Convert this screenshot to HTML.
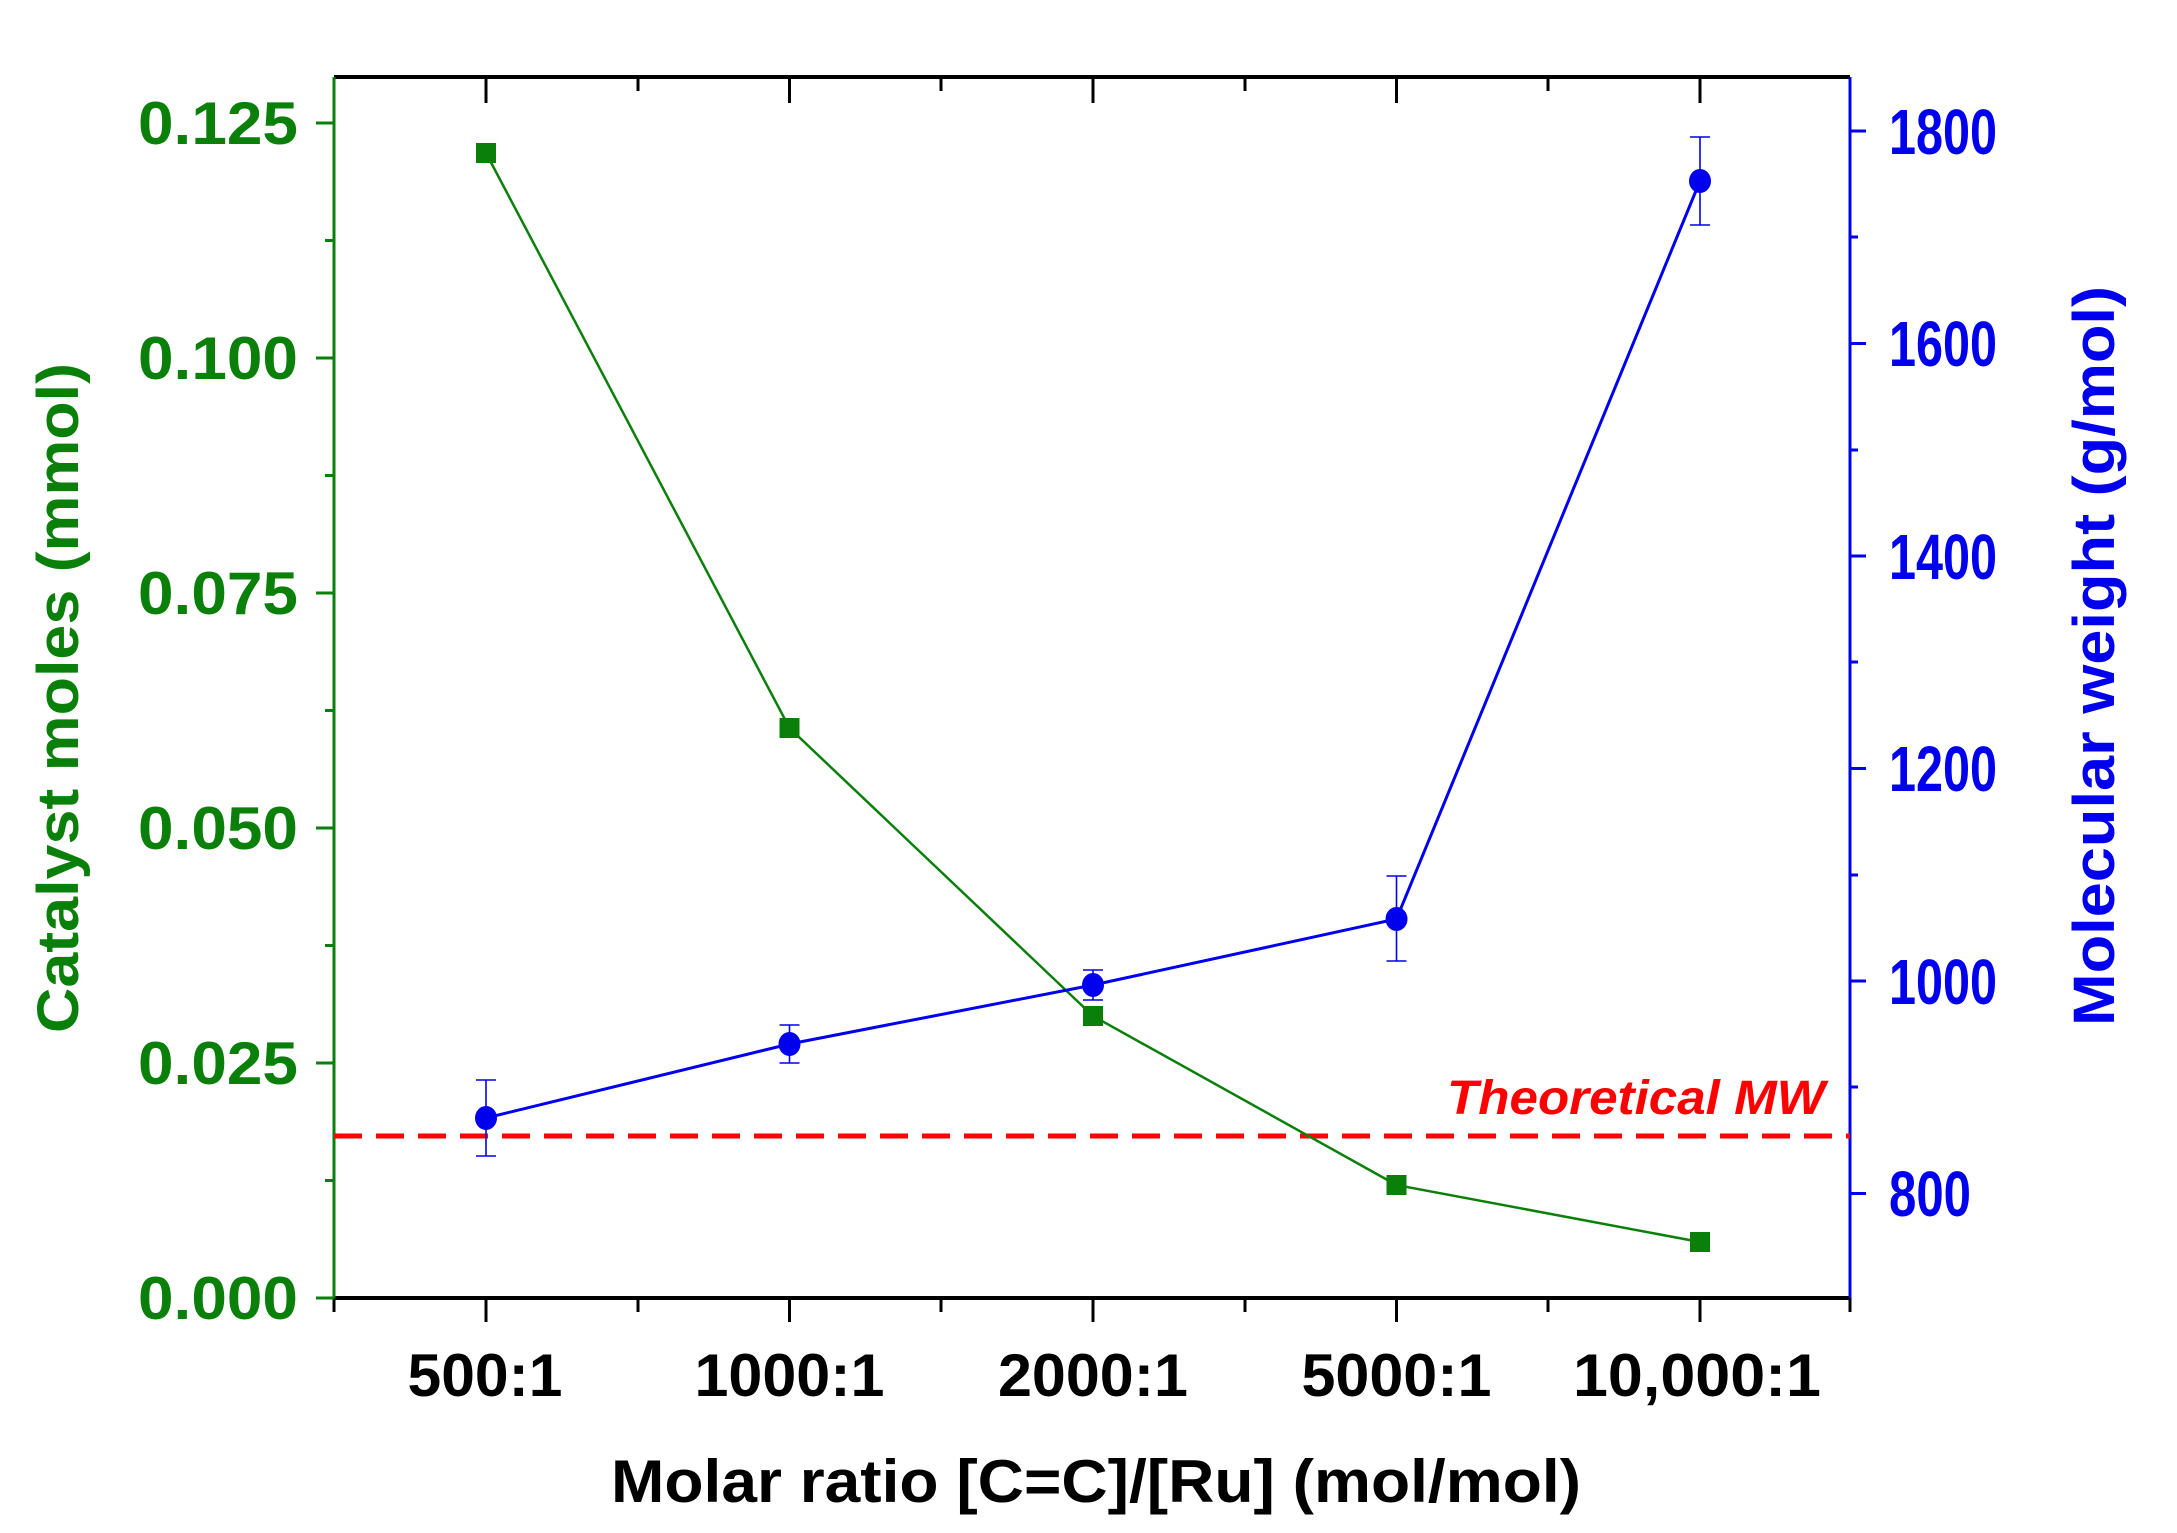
<!DOCTYPE html>
<html><head><meta charset="utf-8"><style>
html,body{margin:0;padding:0;background:#fff}
svg{display:block}
text{font-family:"Liberation Sans",Arial,sans-serif;font-weight:bold}
</style></head><body>
<svg width="2177" height="1533" viewBox="0 0 2177 1533" xmlns="http://www.w3.org/2000/svg">
<line x1="334" y1="77" x2="1850" y2="77" stroke="#000" stroke-width="4"/>
<line x1="334" y1="1298" x2="1850" y2="1298" stroke="#000" stroke-width="4"/>
<line x1="334" y1="77" x2="334" y2="1300" stroke="#0a800a" stroke-width="3"/>
<line x1="1850" y1="77" x2="1850" y2="1300" stroke="#0000ee" stroke-width="3"/>
<g stroke="#000" stroke-width="3">
<line x1="486" y1="1298" x2="486" y2="1322"/><line x1="789.5" y1="1298" x2="789.5" y2="1322"/><line x1="1093" y1="1298" x2="1093" y2="1322"/><line x1="1396.5" y1="1298" x2="1396.5" y2="1322"/><line x1="1700" y1="1298" x2="1700" y2="1322"/>
<line x1="334" y1="1298" x2="334" y2="1312"/><line x1="638" y1="1298" x2="638" y2="1312"/><line x1="941" y1="1298" x2="941" y2="1312"/><line x1="1245" y1="1298" x2="1245" y2="1312"/><line x1="1548" y1="1298" x2="1548" y2="1312"/><line x1="1850" y1="1298" x2="1850" y2="1312"/>
<line x1="486" y1="77" x2="486" y2="103"/><line x1="789.5" y1="77" x2="789.5" y2="103"/><line x1="1093" y1="77" x2="1093" y2="103"/><line x1="1396.5" y1="77" x2="1396.5" y2="103"/><line x1="1700" y1="77" x2="1700" y2="103"/>
<line x1="638" y1="77" x2="638" y2="91"/><line x1="941" y1="77" x2="941" y2="91"/><line x1="1245" y1="77" x2="1245" y2="91"/><line x1="1548" y1="77" x2="1548" y2="91"/>
</g>
<g stroke="#0a800a" stroke-width="3">
<line x1="316" y1="1298" x2="334" y2="1298"/><line x1="316" y1="1063" x2="334" y2="1063"/><line x1="316" y1="828" x2="334" y2="828"/><line x1="316" y1="593" x2="334" y2="593"/><line x1="316" y1="358" x2="334" y2="358"/><line x1="316" y1="123" x2="334" y2="123"/>
<line x1="325" y1="1180.5" x2="334" y2="1180.5"/><line x1="325" y1="945.5" x2="334" y2="945.5"/><line x1="325" y1="710.5" x2="334" y2="710.5"/><line x1="325" y1="475.5" x2="334" y2="475.5"/><line x1="325" y1="240.5" x2="334" y2="240.5"/>
</g>
<g fill="#0a800a" font-size="60" text-anchor="end">
<text x="298" y="144" textLength="160" lengthAdjust="spacingAndGlyphs">0.125</text>
<text x="298" y="379" textLength="160" lengthAdjust="spacingAndGlyphs">0.100</text>
<text x="298" y="614" textLength="160" lengthAdjust="spacingAndGlyphs">0.075</text>
<text x="298" y="849" textLength="160" lengthAdjust="spacingAndGlyphs">0.050</text>
<text x="298" y="1084" textLength="160" lengthAdjust="spacingAndGlyphs">0.025</text>
<text x="298" y="1319" textLength="160" lengthAdjust="spacingAndGlyphs">0.000</text>
</g>
<g stroke="#0000ee" stroke-width="3">
<line x1="1850" y1="131" x2="1866" y2="131"/><line x1="1850" y1="343.5" x2="1866" y2="343.5"/><line x1="1850" y1="556" x2="1866" y2="556"/><line x1="1850" y1="768.5" x2="1866" y2="768.5"/><line x1="1850" y1="981" x2="1866" y2="981"/><line x1="1850" y1="1193.5" x2="1866" y2="1193.5"/>
<line x1="1850" y1="237" x2="1858" y2="237"/><line x1="1850" y1="450" x2="1858" y2="450"/><line x1="1850" y1="662" x2="1858" y2="662"/><line x1="1850" y1="875" x2="1858" y2="875"/><line x1="1850" y1="1087" x2="1858" y2="1087"/>
</g>
<g fill="#0000ee" font-size="64" text-anchor="start">
<text x="1889" y="154" textLength="108" lengthAdjust="spacingAndGlyphs">1800</text>
<text x="1889" y="366" textLength="108" lengthAdjust="spacingAndGlyphs">1600</text>
<text x="1889" y="579" textLength="108" lengthAdjust="spacingAndGlyphs">1400</text>
<text x="1889" y="791" textLength="108" lengthAdjust="spacingAndGlyphs">1200</text>
<text x="1889" y="1004" textLength="108" lengthAdjust="spacingAndGlyphs">1000</text>
<text x="1889" y="1216" textLength="82" lengthAdjust="spacingAndGlyphs">800</text>
</g>
<g fill="#000" font-size="60" text-anchor="middle">
<text x="485" y="1396" textLength="155" lengthAdjust="spacingAndGlyphs">500:1</text>
<text x="789.5" y="1396" textLength="190" lengthAdjust="spacingAndGlyphs">1000:1</text>
<text x="1093" y="1396" textLength="190" lengthAdjust="spacingAndGlyphs">2000:1</text>
<text x="1396.5" y="1396" textLength="190" lengthAdjust="spacingAndGlyphs">5000:1</text>
<text x="1697" y="1396" textLength="248" lengthAdjust="spacingAndGlyphs">10,000:1</text>
<text x="1096" y="1502" textLength="970" lengthAdjust="spacingAndGlyphs">Molar ratio [C=C]/[Ru] (mol/mol)</text>
</g>
<text transform="translate(78,698) rotate(-90)" fill="#0a800a" font-size="58" text-anchor="middle" textLength="670" lengthAdjust="spacingAndGlyphs">Catalyst moles (mmol)</text>
<text transform="translate(2114,656) rotate(-90)" fill="#0000ee" font-size="58" text-anchor="middle" textLength="740" lengthAdjust="spacingAndGlyphs">Molecular weight (g/mol)</text>
<line x1="334" y1="1136" x2="1850" y2="1136" stroke="#ff0000" stroke-width="5" stroke-dasharray="28,14"/>
<text x="1825" y="1114" fill="#ff0000" font-size="48" font-style="italic" text-anchor="end" textLength="378" lengthAdjust="spacingAndGlyphs">Theoretical MW</text>
<polyline points="486,153 789.5,728 1093,1016 1396.5,1185 1700,1242" fill="none" stroke="#0a800a" stroke-width="2.5"/>
<g fill="#0a800a">
<rect x="476" y="143" width="20" height="20"/><rect x="779.5" y="718" width="20" height="20"/><rect x="1083" y="1006" width="20" height="20"/><rect x="1386.5" y="1175" width="20" height="20"/><rect x="1690" y="1232" width="20" height="20"/>
</g>
<polyline points="486,1118 789.5,1044 1093,985 1396.5,919 1700,181" fill="none" stroke="#0000ee" stroke-width="3"/>
<g stroke="#0000ee" stroke-width="1.6">
<line x1="486" y1="1080" x2="486" y2="1156"/><line x1="476" y1="1080" x2="496" y2="1080"/><line x1="476" y1="1156" x2="496" y2="1156"/>
<line x1="789.5" y1="1025" x2="789.5" y2="1063"/><line x1="779.5" y1="1025" x2="799.5" y2="1025"/><line x1="779.5" y1="1063" x2="799.5" y2="1063"/>
<line x1="1093" y1="970" x2="1093" y2="1000"/><line x1="1083" y1="970" x2="1103" y2="970"/><line x1="1083" y1="1000" x2="1103" y2="1000"/>
<line x1="1396.5" y1="876" x2="1396.5" y2="961"/><line x1="1386.5" y1="876" x2="1406.5" y2="876"/><line x1="1386.5" y1="961" x2="1406.5" y2="961"/>
<line x1="1700" y1="137" x2="1700" y2="225"/><line x1="1690" y1="137" x2="1710" y2="137"/><line x1="1690" y1="225" x2="1710" y2="225"/>
</g>
<g fill="#0000ee">
<ellipse cx="486" cy="1118" rx="11" ry="12"/><ellipse cx="789.5" cy="1044" rx="11" ry="12"/><ellipse cx="1093" cy="985" rx="11" ry="12"/><ellipse cx="1396.5" cy="919" rx="11" ry="12"/><ellipse cx="1700" cy="181" rx="11" ry="12"/>
</g>
</svg>
</body></html>
